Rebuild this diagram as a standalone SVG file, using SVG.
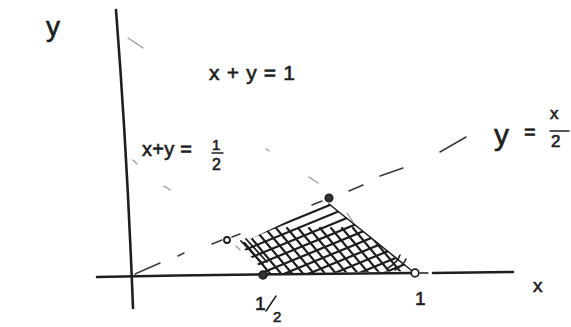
<svg xmlns="http://www.w3.org/2000/svg" width="571" height="327" viewBox="0 0 571 327">
<defs>
<style>
.ink{fill:none;stroke:#1e1e1e;stroke-linecap:round;stroke-linejoin:round}
.axis{stroke-width:2.6}
.hatch{stroke-width:2.2}
.dash{fill:none;stroke:#3a3a3a;stroke-width:1.5;stroke-linecap:round}
.faint{fill:none;stroke:#9a9a9a;stroke-width:1.3;stroke-linecap:round}
.lbl{font-family:"Liberation Sans",Arial,sans-serif;fill:#1e1e1e;stroke:#1e1e1e;stroke-width:0.6}
.pt{fill:#333;stroke:#1e1e1e;stroke-width:1.5}
.opt{fill:#fff;stroke:#1e1e1e;stroke-width:1.8}
</style>
<clipPath id="region">
<polygon points="240,244 327,202 413,271 266,274"/>
</clipPath>
</defs>
<rect width="571" height="327" fill="#fff"/>

<g id="axes">
<path class="ink axis" d="M116,10 Q127,150 133,308"/>
<path class="ink axis" d="M97,277 Q260,274 413,273"/>
<path class="ink" stroke-width="1.4" d="M420,273 L428,273"/>
<path class="ink axis" d="M433,273 L513,272"/>
</g>

<g id="guide-lines">
<!-- y = x/2 -->
<path class="dash" d="M135,274 L160,263 M178,256 L184,253 M212,244 L222,240 M232,237 L240,234 M312,205 L322,201 M349,191 L363,185 M380,176 L403,168 M440,152 L466,137"/>
<!-- x + y = 1 -->
<path class="faint" d="M128,38 L143,48 M266,149 L269,151 M309,177 L318,183 M347,213 L353,222 M392,255 L402,263"/>
<!-- x + y = 1/2 -->
<path class="faint" d="M133,160 L137,164 M164,186 L170,190 M236,246 L240,250"/>
</g>

<g id="region-hatch">
<g clip-path="url(#region)" class="ink hatch">
<path d="M230,246 L420,168 M230,256 L420,178 M230,266 L420,188 M230,276 L420,198 M230,286 L420,208 M230,296 L420,218 M230,306 L420,228 M230,316 L420,238 M230,326 L420,248 M230,336 L420,258 M230,346 L420,268"/>
<path d="M232,228 L282,288 M243,228 L293,288 M254,228 L304,288 M265,228 L315,288 M276,228 L326,288 M287,228 L337,288 M298,228 L348,288 M309,228 L359,288 M320,228 L370,288 M331,228 L381,288 M342,228 L392,288 M353,228 L403,288 M364,228 L414,288"/>
</g>
<path class="ink" stroke-width="1.8" d="M241,241 L263,264 M246,239 L267,262"/>
<path class="ink" stroke-width="1.5" d="M329,204 L411,270 M388,268 Q398,262 400,255 M395,270 Q404,265 406,259"/>
</g>

<g id="points">
<circle class="pt" cx="263" cy="275" r="4"/>
<circle class="opt" cx="415" cy="273" r="3.8"/>
<circle class="pt" cx="329" cy="198" r="3.8"/>
<circle class="opt" cx="227" cy="240" r="3"/>
</g>

<g id="labels">
<text class="lbl" x="46" y="36" font-size="28">y</text>
<text class="lbl" x="209" y="80" font-size="21" textLength="86" lengthAdjust="spacing">x + y = 1</text>
<text class="lbl" x="142" y="156" font-size="20" textLength="50" lengthAdjust="spacing">x+y =</text>
<text class="lbl" x="212" y="150" font-size="15">1</text>
<path class="ink" stroke-width="1.3" d="M212,153 L223,153"/>
<text class="lbl" x="212" y="170" font-size="16">2</text>
<text class="lbl" x="494" y="145" font-size="30">y</text>
<text class="lbl" x="524" y="139" font-size="20">=</text>
<text class="lbl" x="550" y="119" font-size="17">x</text>
<path class="ink" stroke-width="1.5" d="M550,131 L569,131"/>
<text class="lbl" x="551" y="147" font-size="17">2</text>
<text class="lbl" x="255" y="310" font-size="19">1</text>
<path class="ink" stroke-width="1.5" d="M266,311 L276,296"/>
<text class="lbl" x="273" y="322" font-size="15">2</text>
<text class="lbl" x="415" y="305" font-size="19">1</text>
<text class="lbl" x="533" y="292" font-size="19">x</text>
</g>
</svg>
